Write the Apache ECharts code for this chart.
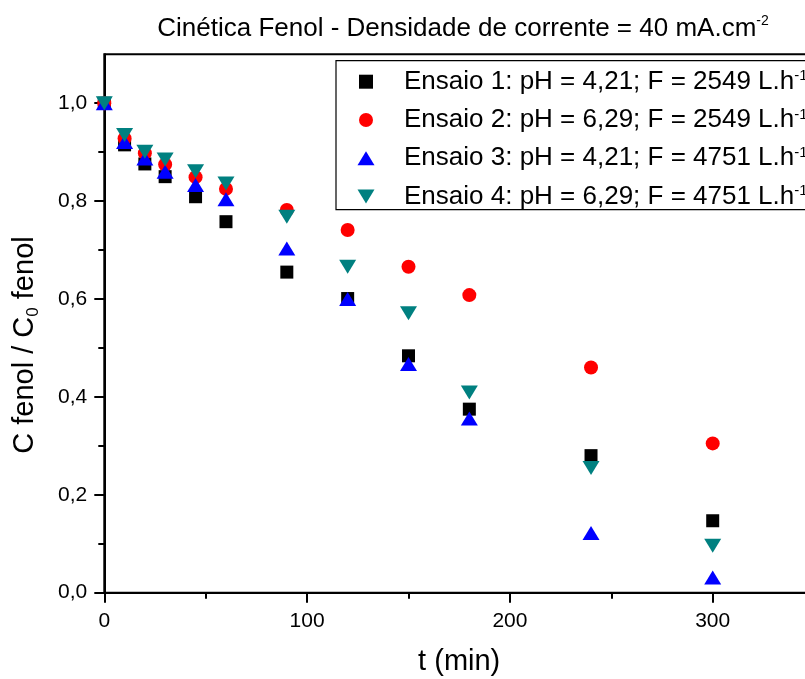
<!DOCTYPE html>
<html><head><meta charset="utf-8">
<script src="https://cdn.jsdelivr.net/npm/echarts@6/dist/echarts.min.js"></script>
<style>html,body{margin:0;padding:0;background:#fff}#c{width:805px;height:679px}</style>
</head><body><div id="c"></div>
<script>
// ---- data ----
const times   = [0, 10, 20, 30, 45, 60, 90, 120, 150, 180, 240, 300];
const ensaio1 = [1.000, 0.915, 0.876, 0.850, 0.809, 0.758, 0.655, 0.601, 0.484, 0.375, 0.280, 0.147];
const ensaio2 = [1.000, 0.928, 0.898, 0.875, 0.849, 0.825, 0.782, 0.741, 0.666, 0.608, 0.460, 0.305];
const ensaio3 = [1.000, 0.921, 0.887, 0.860, 0.833, 0.804, 0.703, 0.600, 0.467, 0.356, 0.122, 0.031];
const ensaio4 = [1.000, 0.935, 0.901, 0.885, 0.861, 0.836, 0.768, 0.666, 0.571, 0.409, 0.255, 0.096];
const seriesNames = [
  'Ensaio 1: pH = 4,21; F = 2549 L.h',
  'Ensaio 2: pH = 6,29; F = 2549 L.h',
  'Ensaio 3: pH = 4,21; F = 4751 L.h',
  'Ensaio 4: pH = 6,29; F = 4751 L.h'
];
const xTickValues = [0, 100, 200, 300];
const xMinorTickValues = [50, 150, 250];
const yTickValues = [0, 0.2, 0.4, 0.6, 0.8, 1.0];
const yMinorTickValues = [0.1, 0.3, 0.5, 0.7, 0.9];
const titleText = 'Cinética Fenol - Densidade de corrente = 40 mA.cm';
const titleSup = '-2';
const legendSup = '-1';
const xName = 't (min)';

// ---- styling ----
const FONT = '"Liberation Sans", Arial, sans-serif';
const colors = ['#000000', '#ff0000', '#0000ff', '#008080'];
const symbols = [
  'path://M0,0 L13,0 L13,13 L0,13 Z',
  'circle',
  'path://M8.5,0 L17,14 L0,14 Z',
  'path://M0,0 L17,0 L8.5,14 Z'
];
const symbolSizes = [13, 14, [17, 14], [17, 14]];
const allValues = [ensaio1, ensaio2, ensaio3, ensaio4];

const pairs = ys => times.map((t, i) => [t, ys[i]]);
const fmt = v => v.toFixed(1).replace('.', ',');

const chart = echarts.init(document.getElementById('c'), null, {renderer: 'canvas'});

const axisCommon = {
  type: 'value',
  splitLine: {show: false},
  axisLine: {show: true, onZero: false, lineStyle: {color: '#000', width: 2}},
};

chart.setOption({
  animation: false,
  backgroundColor: '#fff',
  textStyle: {fontFamily: FONT, color: '#000'},
  grid: {
    left: 104.3, top: 54.3, width: 709.8, height: 538.4,
    containLabel: false, outerBoundsMode: 'none',
    show: true, borderColor: '#000', borderWidth: 2, backgroundColor: 'transparent'
  },
  xAxis: [
    Object.assign({}, axisCommon, {
      min: 0, max: 350, position: 'bottom',
      name: xName, nameLocation: 'middle', nameGap: 55, nameMoveOverlap: false,
      nameTextStyle: {fontSize: 29, color: '#000', fontFamily: FONT},
      axisTick: {show: true, inside: false, length: 10, lineStyle: {color: '#000', width: 2}, customValues: xTickValues},
      axisLabel: {show: true, margin: 18, fontSize: 21, color: '#000', fontFamily: FONT, customValues: xTickValues,
                  formatter: v => String(v)}
    }),
    Object.assign({}, axisCommon, {
      min: 0, max: 350, position: 'bottom',
      axisLine: {show: false},
      axisTick: {show: true, inside: false, length: 6, lineStyle: {color: '#000', width: 2}, customValues: xMinorTickValues},
      axisLabel: {show: false}
    })
  ],
  yAxis: [
    Object.assign({}, axisCommon, {
      min: 0, max: 1.1, position: 'left',
      axisTick: {show: true, inside: false, length: 10, lineStyle: {color: '#000', width: 2}, customValues: yTickValues},
      axisLabel: {show: true, margin: 17, fontSize: 21, color: '#000', fontFamily: FONT, customValues: yTickValues,
                  formatter: v => fmt(v)}
    }),
    Object.assign({}, axisCommon, {
      min: 0, max: 1.1, position: 'left',
      axisLine: {show: false},
      axisTick: {show: true, inside: false, length: 6, lineStyle: {color: '#000', width: 2}, customValues: yMinorTickValues},
      axisLabel: {show: false}
    })
  ],
  legend: {
    orient: 'vertical',
    left: 336, top: 60.7,
    padding: [8, 20, 0, 21.5],
    itemGap: 12.3,
    itemWidth: 17, itemHeight: 14,
    backgroundColor: '#fff',
    borderColor: '#000', borderWidth: 1.2,
    selectedMode: false,
    data: seriesNames.map((n, i) => ({name: n, icon: symbols[i]})),
    formatter: name => '{t|' + name + '}{s|' + legendSup + '}',
    textStyle: {
      color: '#000', fontFamily: FONT, fontSize: 26,
      padding: [0, 0, 0, 24.5],
      rich: {
        t: {fontSize: 26, lineHeight: 26, color: '#000', fontFamily: FONT},
        s: {fontSize: 15, lineHeight: 4, verticalAlign: 'top', color: '#000', fontFamily: FONT}
      }
    }
  },
  graphic: [
    {
      type: 'text', x: 463, y: 28.7, silent: true,
      style: {
        text: '{t|' + titleText + '}{s|' + titleSup + '}',
        align: 'center', verticalAlign: 'middle',
        rich: {
          t: {fontSize: 26, lineHeight: 30, fill: '#000', fontFamily: FONT},
          s: {fontSize: 14, lineHeight: 18, verticalAlign: 'top', fill: '#000', fontFamily: FONT}
        }
      }
    },
    {
      type: 'text', x: 24.6, y: 345, rotation: Math.PI / 2, silent: true,
      style: {
        text: '{a|C fenol / C}{b|0}{a| fenol}',
        align: 'center', verticalAlign: 'middle',
        rich: {
          a: {fontSize: 29, lineHeight: 34, fill: '#000', fontFamily: FONT},
          b: {fontSize: 17, lineHeight: 14, verticalAlign: 'bottom', fill: '#000', fontFamily: FONT}
        }
      }
    }
  ],
  series: allValues.map((vals, i) => ({
    name: seriesNames[i],
    type: 'scatter',
    xAxisIndex: 0, yAxisIndex: 0,
    data: pairs(vals),
    symbol: symbols[i],
    symbolSize: symbolSizes[i],
    itemStyle: {color: colors[i], opacity: 1},
    emphasis: {disabled: true},
    z: 2 + i
  }))
});
</script>
</body></html>
